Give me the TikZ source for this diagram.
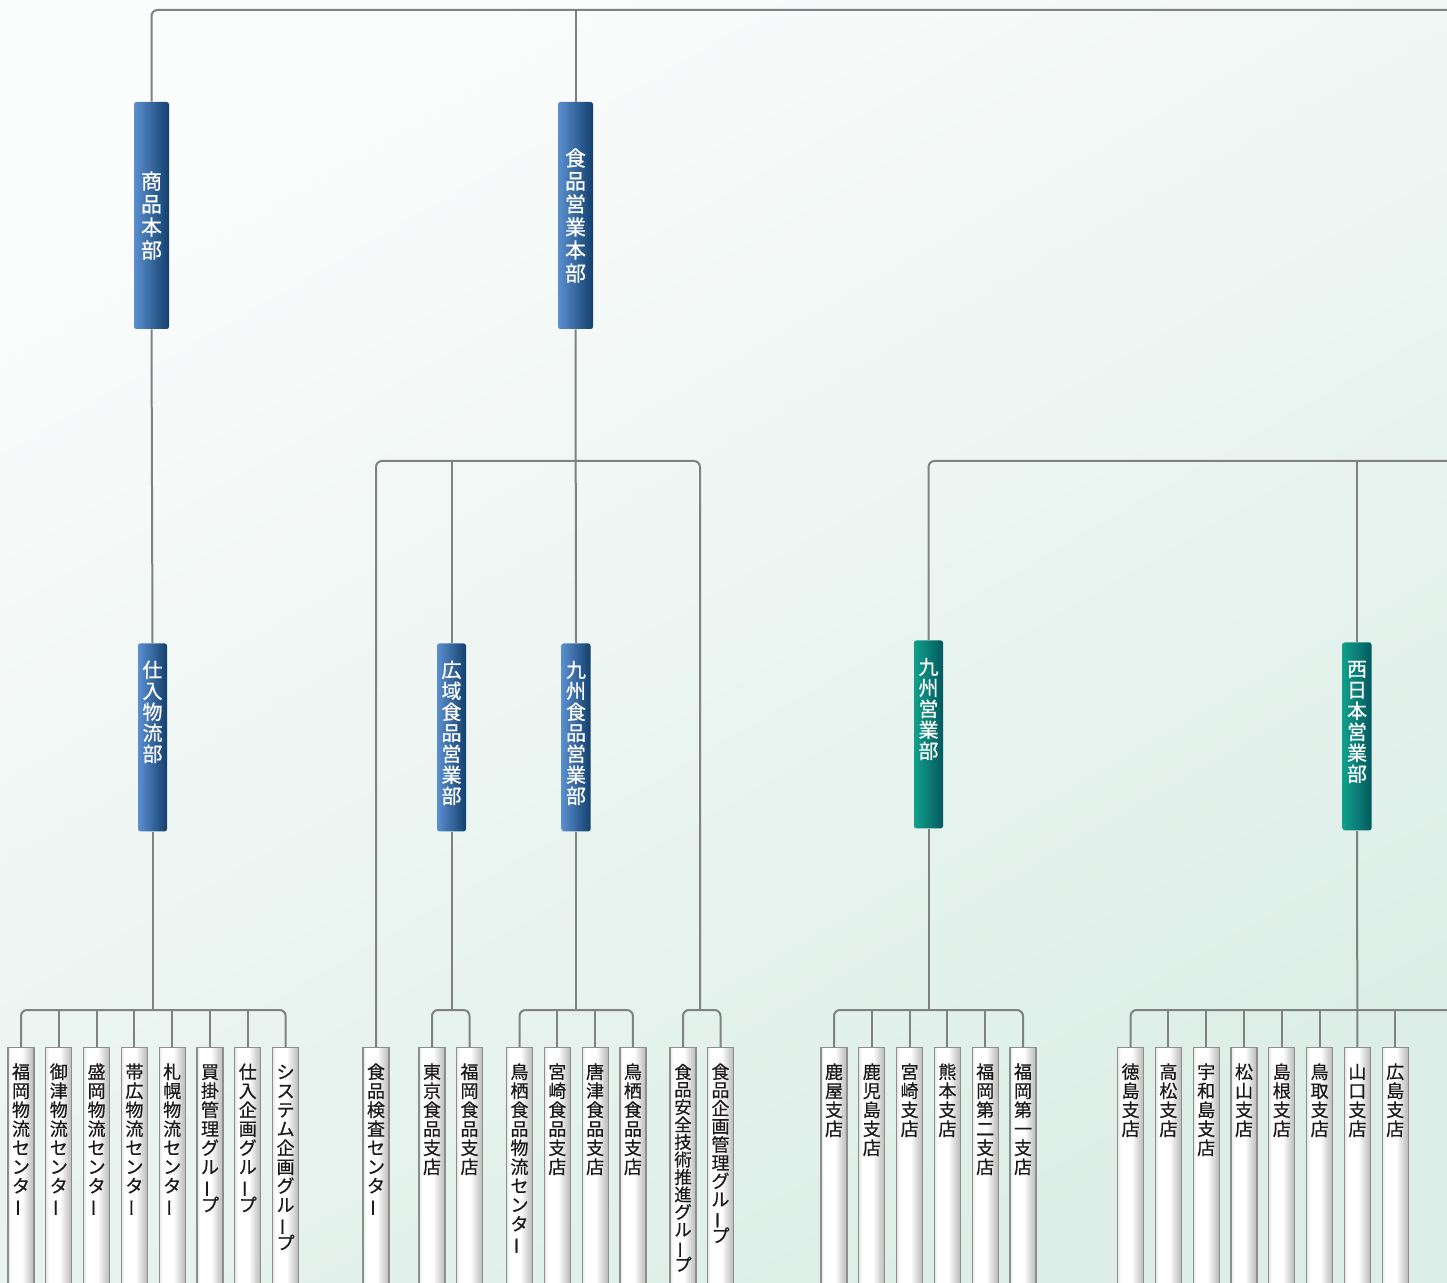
\documentclass[tikz,border=0pt]{standalone}
\usepackage{fontspec}
\usepackage{graphicx}
\newfontfamily\jpfont[FakeBold=0.6]{Noto Sans CJK JP}

\definecolor{linegray}{HTML}{7E8282}
\definecolor{boxline}{HTML}{8E8E8E}
\definecolor{textblack}{HTML}{1A1A1A}
\definecolor{bluel}{HTML}{5A8FD0}
\definecolor{blued}{HTML}{133F6C}
\definecolor{teall}{HTML}{11A08C}
\definecolor{teald}{HTML}{04585E}
\definecolor{bgtop}{HTML}{FBFCFC}
\definecolor{bgbot}{HTML}{DCEEE7}

% white label tube, grey edge on the right
\pgfdeclarehorizontalshading{kabox}{100bp}{color(0bp)=(black!10); color(25bp)=(black!10);
  color(31bp)=(white); color(52bp)=(white); color(75bp)=(black!28); color(100bp)=(black!28)}

% stack the characters of a label one under the other (tategaki)
\ExplSyntaxOn
\NewDocumentCommand \tategaki { m }
  {
    \vtop
      {
        \lineskiplimit = -\maxdimen
        \exp_args:No \tl_map_inline:nn {#1}
          {
            \hbox_to_wd:nn { 1em }
              {
                \hss
                \str_if_eq:nnTF {##1} { ー }
                  { \rotatebox[origin=c]{90}{ー} }
                  { ##1 }
                \hss
              }
          }
      }
  }
\ExplSyntaxOff

\tikzset{
  conn/.style={draw=linegray, line width=1pt, rounded corners=3pt},
  honbu/.style={rectangle, rounded corners=1.2pt, left color=bluel, right color=blued,
    text=white, inner sep=0pt, minimum width=17.5pt, minimum height=113.5pt,
    font=\jpfont\fontsize{10.5}{11.5}\selectfont},
  bu/.style={rectangle, rounded corners=1.2pt, left color=bluel, right color=blued,
    text=white, inner sep=0pt, minimum width=14.5pt, text height=17pt, text depth=77pt,
    font=\jpfont\fontsize{10}{10.5}\selectfont, anchor=north},
  eigyo/.style={bu, left color=teall, right color=teald},
  ka/.style={rectangle, draw=boxline, line width=0.6pt, shade, shading=kabox,
    inner sep=0pt, minimum width=13pt, text height=15.5pt, text depth=115pt,
    text=textblack, font=\jpfont\fontsize{9}{9.5}\selectfont, anchor=north},
}

\begin{document}
\begin{tikzpicture}[x=0.5pt,y=-0.5pt]
  \useasboundingbox (0,0) rectangle (1447,1283);
  \clip (0,0) rectangle (1447,1283);
  \shade[top color=bgtop, bottom color=bgbot, shading angle=30] (0,0) rectangle (1447,1283);

  \coordinate (top) at (1460,10);
  \coordinate (east) at (1460,0);
  \coordinate (busA) at (0,461);
  \coordinate (busB) at (0,1010);
  \coordinate (gb) at (700,1010);

  % honbu
  \node[honbu] (shohin) at (151.5,215.5) {\tategaki{商品本部}};
  \node[honbu] (shokuhin) at (575.5,215.5) {\tategaki{食品営業本部}};

  % bu
  \node[bu] (shiire) at (152.5,643) {\tategaki{仕入物流部}};
  \node[bu] (kouiki) at (451.5,643) {\tategaki{広域食品営業部}};
  \node[bu] (kyushoku) at (576,643) {\tategaki{九州食品営業部}};
  \node[eigyo] (kyushu) at (928.5,640) {\tategaki{九州営業部}};
  \node[eigyo] (nishi) at (1357,642) {\tategaki{西日本営業部}};

  % centers, groups, shiten
  \foreach \lab [count=\i] in {福岡物流センター,御津物流センター,盛岡物流センター,帯広物流センター,
      札幌物流センター,買掛管理グループ,仕入企画グループ,システム企画グループ}
    \node[ka] (s\i) at ({21+37.8*(\i-1)},1047) {\tategaki{\lab}};
  \node[ka] (k0) at (376,1047) {\tategaki{食品検査センター}};
  \foreach \lab [count=\i] in {東京食品支店,福岡食品支店}
    \node[ka] (k\i) at ({432+37.5*(\i-1)},1047) {\tategaki{\lab}};
  \foreach \lab [count=\i] in {鳥栖食品物流センター,宮崎食品支店,唐津食品支店,鳥栖食品支店}
    \node[ka] (q\i) at ({519.5+37.8*(\i-1)},1047) {\tategaki{\lab}};
  % the two long group names sit a little tighter
  \node[ka, font=\jpfont\fontsize{8.7}{8.75}\selectfont] (g1) at (683,1047) {\tategaki{食品安全技術推進グループ}};
  \node[ka, font=\jpfont\fontsize{9}{9.1}\selectfont] (g2) at (720.5,1047) {\tategaki{食品企画管理グループ}};
  \foreach \lab [count=\i] in {鹿屋支店,鹿児島支店,宮崎支店,熊本支店,福岡第二支店,福岡第一支店}
    \node[ka] (r\i) at ({834+37.8*(\i-1)},1047) {\tategaki{\lab}};
  \foreach \lab [count=\i] in {徳島支店,高松支店,宇和島支店,松山支店,島根支店,鳥取支店,山口支店,広島支店}
    \node[ka] (w\i) at ({1130.6+37.8*(\i-1)},1047) {\tategaki{\lab}};

  % upper lines
  \draw[conn] (shohin.north) |- (top);
  \draw[conn] (shokuhin.north) -- (shokuhin.north |- top);
  \draw[conn] (shohin.south) -- (shiire.north);
  \draw[conn] (shokuhin.south) -- (kyushoku.north);
  \draw[conn] (k0.north) |- (gb |- busA) -- (gb);
  \draw[conn] (kouiki.north) -- (kouiki.north |- busA);
  \draw[conn] (kyushu.north) |- (east |- busA);
  \draw[conn] (nishi.north) -- (nishi.north |- busA);

  % lower lines
  \draw[conn] (s1.north) |- (busB -| s8.north) -- (s8.north);
  \foreach \i in {2,...,7} \draw[conn] (s\i.north) -- (s\i.north |- busB);
  \draw[conn] (shiire.south) -- (shiire.south |- busB);

  \draw[conn] (k1.north) |- (busB -| k2.north) -- (k2.north);
  \draw[conn] (kouiki.south) -- (kouiki.south |- busB);

  \draw[conn] (q1.north) |- (busB -| q4.north) -- (q4.north);
  \foreach \i in {2,3} \draw[conn] (q\i.north) -- (q\i.north |- busB);
  \draw[conn] (kyushoku.south) -- (kyushoku.south |- busB);

  \draw[conn] (g1.north) |- (busB -| g2.north) -- (g2.north);

  \draw[conn] (r1.north) |- (busB -| r6.north) -- (r6.north);
  \foreach \i in {2,...,5} \draw[conn] (r\i.north) -- (r\i.north |- busB);
  \draw[conn] (kyushu.south) -- (kyushu.south |- busB);

  \draw[conn] (w1.north) |- (east |- busB);
  \foreach \i in {2,...,6,8} \draw[conn] (w\i.north) -- (w\i.north |- busB);
  \draw[conn] (nishi.south) -- (w7.north);
\end{tikzpicture}
\end{document}
